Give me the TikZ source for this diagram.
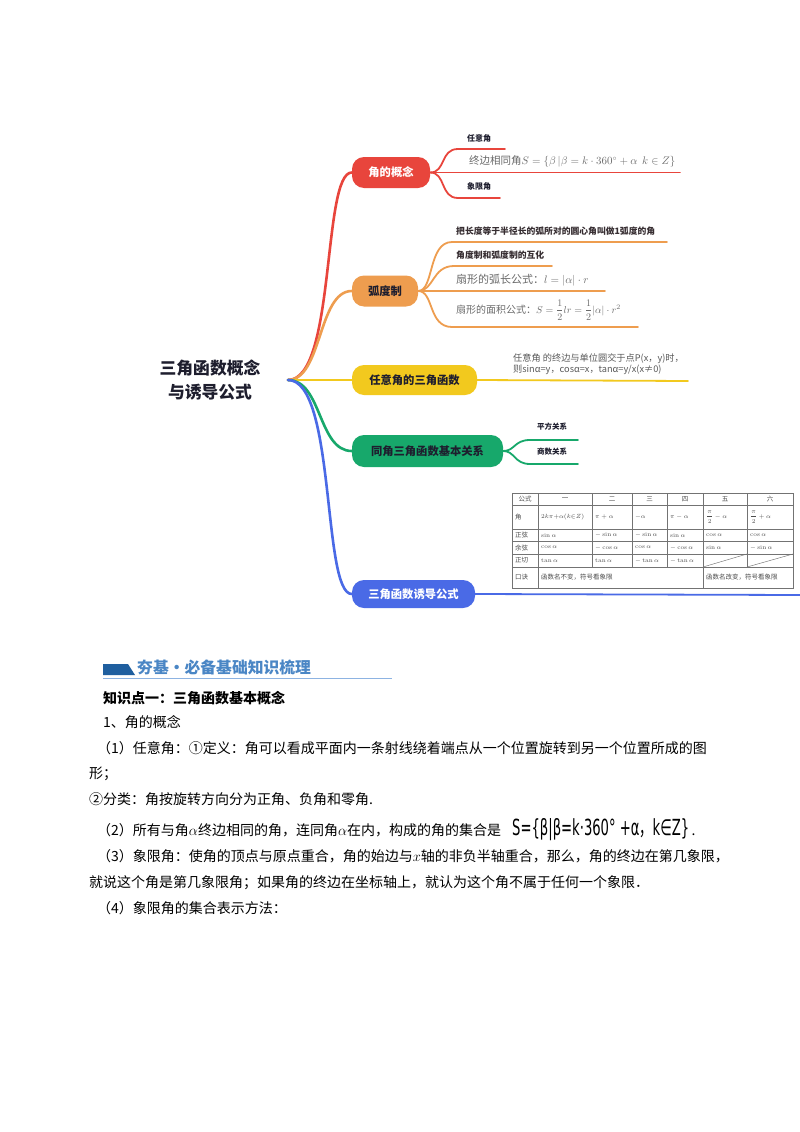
\documentclass[tikz,border=0pt]{standalone}
\usepackage{amsmath}
\usepackage[no-math]{fontspec}
\usepackage{graphicx}
\setmainfont{Noto Sans CJK SC}
\newfontfamily\dejavu{DejaVu Sans}
\definecolor{cred}{HTML}{E8453C}
\definecolor{corange}{HTML}{EE9D4F}
\definecolor{cyellow}{HTML}{F2C91E}
\definecolor{cgreen}{HTML}{17A86B}
\definecolor{cblue}{HTML}{4A6AE6}
\definecolor{ink}{HTML}{1E1E2E}
\definecolor{graytxt}{HTML}{6A6A6A}
\definecolor{hdrblue}{HTML}{4A86C5}
\definecolor{bardark}{HTML}{1F5F9F}
\definecolor{hdrline}{HTML}{8DB3E2}
\begin{document}
\begin{tikzpicture}[x=1pt,y=-1pt,
  mmnode/.style={rounded corners=12pt, inner sep=0pt, font=\bfseries\fontsize{11.3}{13}\selectfont},
  branch/.style={line width=2.6pt, line cap=round},
  sub/.style={line width=1.8pt, line cap=round},
  lbl/.style={font=\bfseries\fontsize{8}{10}\selectfont, text=ink, anchor=west, inner sep=0pt},
  olbl/.style={font=\bfseries\fontsize{8.8}{10}\selectfont, text=ink!85!brown, anchor=west, inner sep=0pt},
  frm/.style={text=graytxt, anchor=west, inner sep=0pt},
  body/.style={font=\fontsize{14}{16}\selectfont, anchor=base west, inner sep=0pt},
  tab/.style={font=\fontsize{6.5}{7.5}\selectfont, text=black!70, inner sep=0pt},
  tabl/.style={tab, anchor=west},
  grid/.style={draw=black!55, line width=0.45pt}
]
\fill[white] (0,0) rectangle (800,1132);
\useasboundingbox (0,0) rectangle (800,1132);

% root
\node[align=center, font=\bfseries\fontsize{16.8}{24}\selectfont, text=ink] (title) at (210,380) {三角函数概念\\与诱导公式};
\coordinate (root) at (288,380);

% main nodes
\node[mmnode, fill=cred, text=white, minimum width=78pt, minimum height=31pt] (n1) at (391,172.5) {角的概念};
\node[mmnode, fill=corange, text=ink, minimum width=66pt, minimum height=31pt] (n2) at (385,291) {弧度制};
\node[mmnode, fill=cyellow, text=ink, minimum width=125pt, minimum height=30pt] (n3) at (414.5,380) {任意角的三角函数};
\node[mmnode, fill=cgreen, text=ink, minimum width=151pt, minimum height=32pt] (n4) at (427.5,451) {同角三角函数基本关系};
\node[mmnode, fill=cblue, text=white, minimum width=123pt, minimum height=28pt] (n5) at (413.5,594) {三角函数诱导公式};

% main branches
\draw[branch, cred] (root) .. controls (336,380) and (322,172.5) .. (n1.west);
\draw[branch, corange] (root) .. controls (322,380) and (318,291) .. (n2.west);
\draw[branch, cyellow] (root) -- (n3.west);
\draw[branch, cgreen] (root) .. controls (322,380) and (318,451) .. (n4.west);
\draw[branch, cblue] (root) .. controls (336,380) and (322,594) .. (n5.west);

% red sub-branches
\coordinate (r1) at (505,149);
\coordinate (r2) at (680,172.5);
\coordinate (r3) at (500,198);
\draw[sub, cred] (n1.east) .. controls (446,172.5) and (440,149) .. (458,149) -- (r1);
\draw[sub, cred] (n1.east) -- (r2);
\draw[sub, cred] (n1.east) .. controls (446,172.5) and (440,198) .. (458,198) -- (r3);
\node[lbl] (l11) at (467,138) {任意角};
\node[lbl] (l13) at (467,186) {象限角};
\node[frm, font=\fontsize{10.5}{12}\selectfont] (l12) at (469,161) {终边相同角$S=\{\beta\,|\beta=k\cdot 360^\circ+\alpha\ \ k\in Z\}$};

% orange sub-branches
\coordinate (o1) at (667,242);
\coordinate (o2) at (552,266);
\coordinate (o3) at (605,291);
\coordinate (o4) at (638,327);
\draw[sub, corange] (n2.east) .. controls (434,291) and (428,242) .. (452,242) -- (o1);
\draw[sub, corange] (n2.east) .. controls (434,291) and (432,266) .. (454,266) -- (o2);
\draw[sub, corange] (n2.east) -- (o3);
\draw[sub, corange] (n2.east) .. controls (434,291) and (428,327) .. (452,327) -- (o4);
\node[olbl] (l21) at (456,231) {把长度等于半径长的弧所对的圆心角叫做1弧度的角};
\node[olbl] (l22) at (456,255) {角度制和弧度制的互化};
\node[frm, font=\fontsize{11}{13}\selectfont] (l23) at (456,280) {扇形的弧长公式：$l=|\alpha|\cdot r$};
\node[frm, font=\fontsize{10}{12}\selectfont] (l24) at (456,310) {扇形的面积公式：$S=\dfrac{1}{2}lr=\dfrac{1}{2}|\alpha|\cdot r^2$};

% yellow
\coordinate (y1) at (688,381);
\draw[sub, cyellow] (n3.east) -- (y1);
\node[anchor=west, inner sep=0pt, align=left, font=\fontsize{9.2}{11.5}\selectfont, text=black!65] (l31) at (513,364) {任意角 的终边与单位圆交于点P(x，y)时，\\则sinα=y，cosα=x，tanα=y/x(x≠0)};

% green
\coordinate (g1) at (578,440);
\coordinate (g2) at (578,464);
\draw[sub, cgreen] (n4.east) .. controls (515,451) and (514,440) .. (530,440) -- (g1);
\draw[sub, cgreen] (n4.east) .. controls (515,451) and (514,464) .. (530,464) -- (g2);
\node[lbl, font=\bfseries\fontsize{7.5}{9}\selectfont] (l41) at (537,427) {平方关系};
\node[lbl, font=\bfseries\fontsize{7.5}{9}\selectfont] (l42) at (537,452) {商数关系};

% blue
\coordinate (b1) at (800,595);
\draw[sub, cblue] (n5.east) -- (b1);

% table
\fill[white] (512,493) rectangle (793,588);
\draw[grid] (512,493) rectangle (793,588);
\foreach \yy in {505,529,541,554,567} \draw[grid] (512,\yy) -- (793,\yy);
\foreach \xx in {538,703} \draw[grid] (\xx,493) -- (\xx,588);
\foreach \xx in {592,632,667,747} \draw[grid] (\xx,493) -- (\xx,567);
\draw[grid] (703,567) -- (747,554);
\draw[grid] (747,567) -- (793,554);
\node[tab] (h0) at (525,499) {公式};
\node[tab] (h1) at (565,499) {一};
\node[tab] (h2) at (612,499) {二};
\node[tab] (h3) at (649.5,499) {三};
\node[tab] (h4) at (685,499) {四};
\node[tab] (h5) at (725,499) {五};
\node[tab] (h6) at (770,499) {六};
\node[tabl] (a0) at (515,517) {角};
\node[tabl] (a1) at (541,517) {$2k\pi{+}\alpha(k{\in}Z)$};
\node[tabl] (a2) at (595,517) {$\pi+\alpha$};
\node[tabl] (a3) at (635,517) {$-\alpha$};
\node[tabl] (a4) at (670,517) {$\pi-\alpha$};
\node[tabl] (a5) at (706,517) {$\dfrac{\pi}{2}-\alpha$};
\node[tabl] (a6) at (750,517) {$\dfrac{\pi}{2}+\alpha$};
\node[tabl] (s0) at (515,535) {正弦};
\node[tabl] (s1) at (541,535) {$\sin\alpha$};
\node[tabl] (s2) at (595,535) {$-\sin\alpha$};
\node[tabl] (s3) at (635,535) {$-\sin\alpha$};
\node[tabl] (s4) at (670,535) {$\sin\alpha$};
\node[tabl] (s5) at (706,535) {$\cos\alpha$};
\node[tabl] (s6) at (750,535) {$\cos\alpha$};
\node[tabl] (c0) at (515,547.5) {余弦};
\node[tabl] (c1) at (541,547.5) {$\cos\alpha$};
\node[tabl] (c2) at (595,547.5) {$-\cos\alpha$};
\node[tabl] (c3) at (635,547.5) {$\cos\alpha$};
\node[tabl] (c4) at (670,547.5) {$-\cos\alpha$};
\node[tabl] (c5) at (706,547.5) {$\sin\alpha$};
\node[tabl] (c6) at (750,547.5) {$-\sin\alpha$};
\node[tabl] (t0) at (515,560.5) {正切};
\node[tabl] (t1) at (541,560.5) {$\tan\alpha$};
\node[tabl] (t2) at (595,560.5) {$\tan\alpha$};
\node[tabl] (t3) at (635,560.5) {$-\tan\alpha$};
\node[tabl] (t4) at (670,560.5) {$-\tan\alpha$};
\node[tabl] (k0) at (515,577.5) {口诀};
\node[tabl] (k1) at (541,577.5) {函数名不变，符号看象限};
\node[tabl] (k2) at (706,577.5) {函数名改变，符号看象限};

% section header
\fill[bardark] (103,664) -- (128,664) -- (135,675) -- (103,675) -- cycle;
\draw[hdrline, line width=0.8pt] (103,678) -- (392,678);
\node[anchor=west, inner sep=0pt, font=\bfseries\fontsize{15.8}{18}\selectfont, text=hdrblue] (hdr) at (137,667) {夯基·必备基础知识梳理};

% body text
\node[body] (p1) at (103,703) {\bfseries 知识点一：三角函数基本概念};
\node[body] (p2) at (103,727) {1、角的概念};
\node[body] (p3) at (97,753) {（1）任意角：①定义：角可以看成平面内一条射线绕着端点从一个位置旋转到另一个位置所成的图};
\node[body] (p4) at (89,778) {形；};
\node[body] (p5) at (89,804) {②分类：角按旋转方向分为正角、负角和零角.};
\node[body] (p6) at (97,835) {（2）所有与角$\alpha$终边相同的角，连同角$\alpha$在内，构成的角的集合是};
\node[anchor=base west, inner sep=0pt, font=\fontsize{14}{16}\selectfont] (p6f) at (512,835) {\resizebox{177pt}{17pt}{\dejavu S=\{β|β=k·360° +α{\fontspec{Noto Sans CJK SC}，}k∈Z\}}\,.};
\node[body] (p7) at (97,861) {（3）象限角：使角的顶点与原点重合，角的始边与$x$轴的非负半轴重合，那么，角的终边在第几象限，};
\node[body] (p8) at (89,887) {就说这个角是第几象限角；如果角的终边在坐标轴上，就认为这个角不属于任何一个象限．};
\node[body] (p9) at (97,913) {（4）象限角的集合表示方法：};
\end{tikzpicture}
\end{document}
